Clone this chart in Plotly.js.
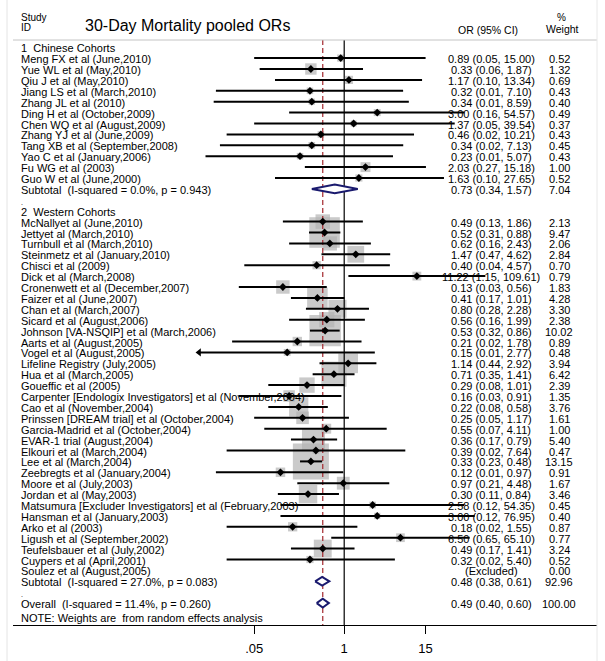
<!DOCTYPE html>
<html><head><meta charset="utf-8">
<script src="https://cdn.plot.ly/plotly-3.0.1.min.js"></script>
<style>html,body{margin:0;padding:0;background:#fff}</style>
</head><body><div id="chart" style="width:605px;height:661px"></div>
<script>
// ---------------- data ----------------
const chineseStudies = ["Meng FX et al (June,2010)","Yue WL et al (May,2010)","Qiu J et al (May,2010)","Jiang LS et al (March,2010)","Zhang JL et al (2010)","Ding H et al (October,2009)","Chen WQ et al (August,2009)","Zhang YJ et al (June,2009)","Tang XB et al (September,2008)","Yao C et al (January,2006)","Fu WG et al (2003)","Guo W et al (June,2000)"];
const chineseOR = [0.89,0.33,1.17,0.32,0.34,3.00,1.37,0.46,0.34,0.23,2.03,1.63];
const chineseLo = [0.05,0.06,0.10,0.014,0.013,0.16,0.05,0.02,0.016,0.0099,0.27,0.10];
const chineseHi = [15.00,1.87,13.34,7.10,8.59,54.57,39.54,10.21,7.13,5.07,15.18,27.65];
const chineseW  = [0.52,1.32,0.69,0.43,0.40,0.49,0.37,0.43,0.45,0.43,1.00,0.52];

const westernStudies = ["McNallyet al (June,2010)","Jettyet al (March,2010)","Turnbull et al (March,2010)","Steinmetz et al (January,2010)","Chisci et al (2009)","Dick et al (March,2008)","Cronenwett et al (December,2007)","Faizer et al (June,2007)","Chan et al (March,2007)","Sicard et al (August,2006)","Johnson [VA-NSQIP] et al (March,2006)","Aarts et al (August,2005)","Vogel et al (August,2005)","Lifeline Registry (July,2005)","Hua et al (March,2005)","Goueffic et al (2005)","Carpenter [Endologix Investigators] et al (November,2004)","Cao et al (November,2004)","Prinssen [DREAM trial] et al (October,2004)","Garcia-Madrid et al (October,2004)","EVAR-1 trial (August,2004)","Elkouri et al (March,2004)","Lee et al (March,2004)","Zeebregts et al (January,2004)","Moore et al (July,2003)","Jordan et al (May,2003)","Matsumura [Excluder Investigators] et al (February,2003)","Hansman et al (January,2003)","Arko et al (2003)","Ligush et al (September,2002)","Teufelsbauer et al (July,2002)","Cuypers et al (April,2001)","Soulez et al (August,2005)"];
const westernOR = [0.49,0.52,0.62,1.47,0.40,11.22,0.13,0.41,0.80,0.56,0.53,0.21,0.15,1.14,0.71,0.29,0.16,0.22,0.25,0.55,0.36,0.39,0.33,0.12,0.97,0.30,2.58,3.00,0.18,6.50,0.49,0.32,null];
const westernLo = [0.13,0.31,0.16,0.47,0.036,1.15,0.03,0.17,0.28,0.16,0.32,0.024,0.006,0.44,0.35,0.08,0.03,0.08,0.05,0.07,0.17,0.02,0.23,0.014,0.21,0.11,0.12,0.12,0.02,0.65,0.17,0.02,null];
const westernHi = [1.86,0.88,2.43,4.62,4.57,109.61,0.56,1.01,2.28,1.99,0.86,1.78,2.77,2.92,1.41,1.01,0.91,0.58,1.17,4.11,0.79,7.64,0.48,0.97,4.48,0.84,54.35,76.95,1.55,65.10,1.41,5.40,null];
const westernW  = [2.13,9.47,2.06,2.84,0.70,0.79,1.83,4.28,3.30,2.38,10.02,0.89,0.48,3.94,6.42,2.39,1.35,3.76,1.61,1.00,5.40,0.47,13.15,0.91,1.67,3.46,0.45,0.40,0.87,0.77,3.24,0.52,0.00];

const groupNames = ["1\u00a0\u00a0Chinese Cohorts","2\u00a0\u00a0Western Cohorts"];
const subtotalI2 = ["0.0%","27.0%"];
const subtotalP  = ["0.943","0.083"];
const subtotalOR = [0.73,0.48];
const subtotalLo = [0.34,0.38];
const subtotalHi = [1.57,0.61];
const subtotalW  = [7.04,92.96];

const overallI2 = "11.4%", overallP = "0.260";
const overallOR = 0.49, overallLo = 0.40, overallHi = 0.60, overallW = 100.00;

const tickVals = [0.05,1,15];
const tickText = [".05","1","15"];

const titleText = "30-Day Mortality pooled ORs";
const noteText = "NOTE: Weights are  from random effects analysis";

// ---------------- layout geometry ----------------
const W = 605, H = 661;
const ML = 13, MR = 8, MT = 0, MB = 36;
const PX_PER_DEC = 69.2, PX_ONE = 344.2;
const ROW0 = 47.2, ROWH = 10.9;
const plotH = H - MT - MB;
const yTop = (MT - ROW0) / ROWH, yBot = (H - MB - ROW0) / ROWH;
const xr = [(ML - PX_ONE) / PX_PER_DEC, (W - MR - PX_ONE) / PX_PER_DEC];
const clipLo = 0.008;
const BOX_K = 9.93;
const FONT = "Liberation Sans Narrow, Arial Narrow, Liberation Sans, Arial, sans-serif";
const px2paper = p => (p - ML) / (W - ML - MR);
const py2row = p => (p - ROW0) / ROWH;

const groups = [
  {studies: chineseStudies, or: chineseOR, lo: chineseLo, hi: chineseHi, w: chineseW},
  {studies: westernStudies, or: westernOR, lo: westernLo, hi: westernHi, w: westernW}
];

const fmt = v => v.toFixed(2);
const ann = [];
function txt(text, xpx, row, anchor, size, extra) {
  ann.push(Object.assign({text: text, x: px2paper(xpx), y: row, xref: 'paper', yref: 'y',
    xanchor: anchor, yanchor: 'middle', showarrow: false, yshift: -1, borderpad: 0, borderwidth: 0,
    font: {family: FONT, size: size || 11, color: '#000'}}, extra || {}));
}

const sq = {x: [], y: [], s: []};
const ci = {x: [], y: []};
const pt = {x: [], y: []};
const arr = {x: [], y: []};
const diamonds = [];

let row = 0;
groups.forEach((g, gi) => {
  txt(groupNames[gi], 21, row, 'left');
  row++;
  g.studies.forEach((name, k) => {
    txt(name, 21, row, 'left');
    if (g.or[k] === null) {
      txt("(Excluded)", 491, row, 'center');
    } else {
      txt(`${fmt(g.or[k])} (${fmt(g.lo[k])}, ${fmt(g.hi[k])})`, 491, row, 'center');
      sq.x.push(g.or[k]); sq.y.push(row); sq.s.push(BOX_K * Math.sqrt(g.w[k]));
      const lo = Math.max(g.lo[k], clipLo);
      ci.x.push(lo, g.hi[k], null); ci.y.push(row, row, null);
      if (g.lo[k] < clipLo) { arr.x.push(clipLo); arr.y.push(row); }
      pt.x.push(g.or[k]); pt.y.push(row);
    }
    txt(fmt(g.w[k]), 559, row, 'center');
    row++;
  });
  txt(`Subtotal\u00a0\u00a0(I-squared = ${subtotalI2[gi]}, p = ${subtotalP[gi]})`, 21, row, 'left');
  txt(`${fmt(subtotalOR[gi])} (${fmt(subtotalLo[gi])}, ${fmt(subtotalHi[gi])})`, 491, row, 'center');
  txt(fmt(subtotalW[gi]), 559, row, 'center');
  diamonds.push([subtotalLo[gi], subtotalOR[gi], subtotalHi[gi], row]);
  row++;
  txt(".", 21, row + 0.15, 'left', 7);
  row++;
});
// overall
txt(`Overall\u00a0\u00a0(I-squared = ${overallI2}, p = ${overallP})`, 21, row, 'left');
txt(`${fmt(overallOR)} (${fmt(overallLo)}, ${fmt(overallHi)})`, 491, row, 'center');
txt(overallW.toFixed(2), 559, row, 'center');
diamonds.push([overallLo, overallOR, overallHi, row]);
row++;
txt(noteText, 21, row + 0.25, 'left');

// headers
txt("Study", 21, py2row(16), 'left', 10);
txt("ID", 21, py2row(26), 'left', 10);
txt(titleText, 85, py2row(24), 'left', 16, {font: {family: "Liberation Sans, Arial, sans-serif", size: 16, color: '#000'}});
txt("OR (95% CI)", 488, py2row(29), 'center', 10.5);
txt("%", 561, py2row(16), 'center', 10);
txt("Weight", 562, py2row(28), 'center', 10.5);

const lineTop = py2row(40), lineBot = yBot;
const traces = [];
traces.push({type: 'scatter', mode: 'markers', x: sq.x, y: sq.y, hoverinfo: 'skip', cliponaxis: false,
  marker: {symbol: 'square', size: sq.s, color: '#b4b4b4', line: {width: 0}}});
traces.push({type: 'scatter', mode: 'lines', x: [1, 1], y: [lineTop, lineBot], hoverinfo: 'skip',
  line: {color: '#000', width: 1.2}});
traces.push({type: 'scatter', mode: 'lines', x: [overallOR, overallOR], y: [lineTop, lineBot], hoverinfo: 'skip',
  line: {color: '#a3282e', width: 1.2, dash: '5px,3px'}});
traces.push({type: 'scatter', mode: 'lines', x: ci.x, y: ci.y, hoverinfo: 'skip', connectgaps: false, cliponaxis: false,
  line: {color: '#000', width: 2}});
traces.push({type: 'scatter', mode: 'markers', x: arr.x, y: arr.y, hoverinfo: 'skip', cliponaxis: false,
  marker: {symbol: 'triangle-left', size: 7, color: '#000'}});
traces.push({type: 'scatter', mode: 'markers', x: pt.x, y: pt.y, hoverinfo: 'skip', cliponaxis: false,
  marker: {symbol: 'diamond', size: 6, color: '#000'}});
diamonds.forEach(d => {
  const h = 0.4;
  traces.push({type: 'scatter', mode: 'lines', x: [d[0], d[1], d[2], d[1], d[0]], y: [d[3], d[3] - h, d[3], d[3] + h, d[3]],
    fill: 'toself', fillcolor: '#fff', hoverinfo: 'skip', line: {color: '#1a1a6e', width: 2}});
});

const layout = {
  width: W, height: H, margin: {l: ML, r: MR, t: MT, b: MB, pad: 0},
  paper_bgcolor: '#fff', plot_bgcolor: 'rgba(0,0,0,0)', showlegend: false,
  xaxis: {type: 'log', range: xr, tickvals: tickVals, ticktext: tickText, ticks: 'outside', ticklen: 8,
    tickwidth: 1, tickcolor: '#000', showline: true, linecolor: '#000', linewidth: 1.2, showgrid: false,
    zeroline: false, fixedrange: true, ticklabelstandoff: 3,
    tickfont: {family: "Liberation Sans, Arial, sans-serif", size: 13, color: '#000'}},
  yaxis: {range: [yBot, yTop], visible: false, fixedrange: true},
  annotations: ann,
  shapes: [
    {type: 'line', xref: 'paper', yref: 'y', x0: 0, x1: 1, y0: lineTop, y1: lineTop, line: {color: '#c4c4c4', width: 1}},
    {type: 'line', xref: 'paper', yref: 'paper', x0: px2paper(7), x1: px2paper(7), y0: -MB / plotH, y1: 1, line: {color: '#e4e4e4', width: 1}},
    {type: 'line', xref: 'paper', yref: 'paper', x0: px2paper(597), x1: px2paper(597), y0: -MB / plotH, y1: 1, line: {color: '#e8e8e8', width: 1}}
  ]
};
Plotly.newPlot('chart', traces, layout, {staticPlot: true, displayModeBar: false});
</script></body></html>
